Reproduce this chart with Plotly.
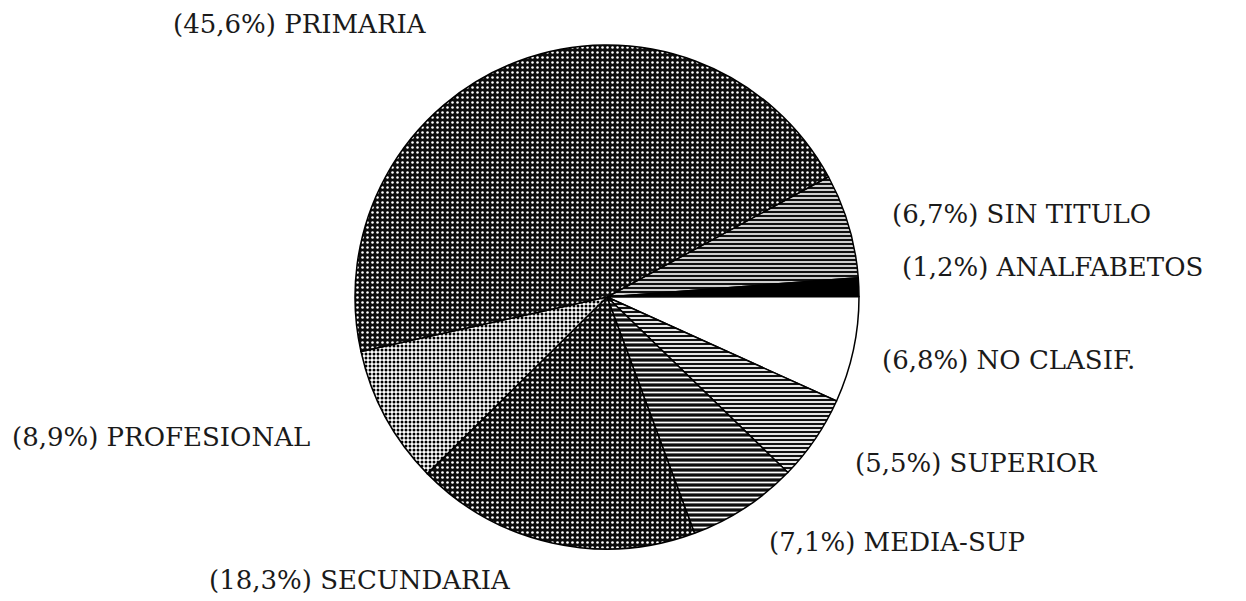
import plotly.graph_objects as go

# Data (clockwise order, starting at SIN TITULO)
labels = ["SIN TITULO", "ANALFABETOS", "NO CLASIF.", "SUPERIOR",
          "MEDIA-SUP", "SECUNDARIA", "PROFESIONAL", "PRIMARIA"]
values = [6.7, 1.2, 6.8, 5.5, 7.1, 18.3, 8.9, 45.6]

# Styles per slice (scanned-texture look)
base_colors = ["#101010", "#000000", "#ffffff", "#121212",
               "#0e0e0e", "#0c0c0c", "#ffffff", "#0d0d0d"]
pat_shapes = ["-", "", "", "-", "-", ".", ".", "."]
pat_fg = ["#ffffff", "#000000", "#000000", "#ffffff",
          "#ffffff", "#ffffff", "#000000", "#ffffff"]
pat_size = [4, 8, 8, 4, 5, 5, 4, 5]
pat_solid = [0.4, 0.3, 0.3, 0.45, 0.35, 0.22, 0.45, 0.2]

# Label positions (pixels in the 1246x601 page) and anchors
W, H = 1246, 601
label_pos = {
    "SIN TITULO": (890, 214, "left"),
    "ANALFABETOS": (900, 267, "left"),
    "NO CLASIF.": (880, 360, "left"),
    "SUPERIOR": (853, 463, "left"),
    "MEDIA-SUP": (767, 542, "left"),
    "SECUNDARIA": (207, 580, "left"),
    "PROFESIONAL": (10, 437, "left"),
    "PRIMARIA": (300, 24, "center"),
}

cx, cy, r = 607, 297, 252

fig = go.Figure(go.Pie(
    labels=labels,
    values=values,
    sort=False,
    direction="clockwise",
    rotation=61.5,
    textinfo="none",
    hoverinfo="label+percent",
    marker=dict(
        colors=base_colors,
        line=dict(color="#000000", width=1.5),
        pattern=dict(shape=pat_shapes, fgcolor=pat_fg, bgcolor=base_colors,
                     size=pat_size, solidity=pat_solid, fillmode="replace"),
    ),
    domain=dict(x=[(cx - r) / W, (cx + r) / W],
                y=[1 - (cy + r) / H, 1 - (cy - r) / H]),
    showlegend=False,
))

annotations = []
for lab, val in zip(labels, values):
    px, py, anchor = label_pos[lab]
    txt = "(" + f"{val:.1f}".replace(".", ",") + "%) " + lab
    annotations.append(dict(
        x=px / W, y=1 - py / H, xref="paper", yref="paper",
        text=txt, showarrow=False, xanchor=anchor, yanchor="middle",
        font=dict(family="DejaVu Serif", size=26, color="#1a1a1a"),
    ))

fig.update_layout(
    width=W, height=H, autosize=False,
    margin=dict(l=0, r=0, t=0, b=0),
    paper_bgcolor="#ffffff",
    plot_bgcolor="#ffffff",
    annotations=annotations,
)

fig.write_html(
    "out.html",
    config={"displayModeBar": False},
    post_script="document.body.style.margin='0';document.body.style.overflow='hidden';",
)
